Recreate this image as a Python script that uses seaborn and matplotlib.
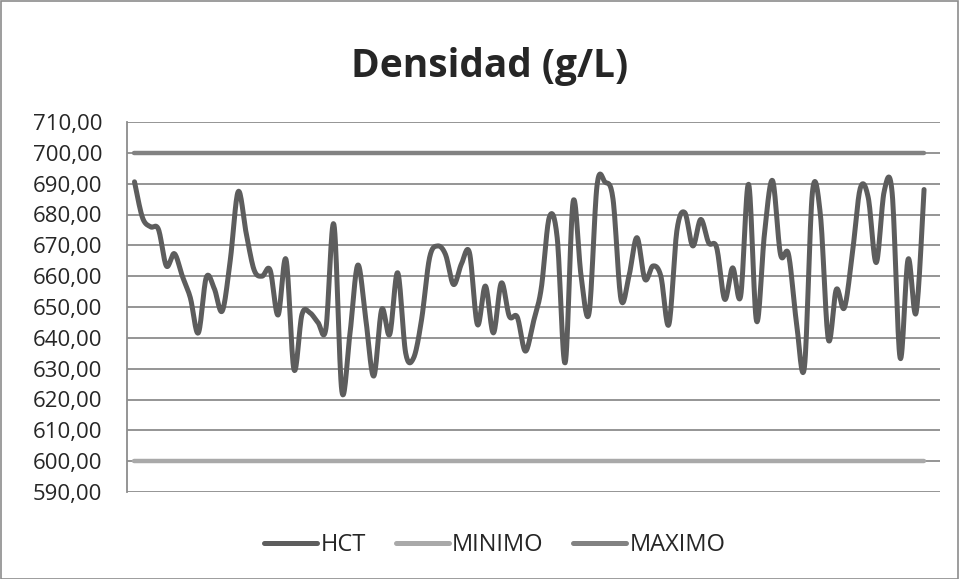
import numpy as np
import pandas as pd
import matplotlib
matplotlib.use("Agg")
import matplotlib.pyplot as plt
import seaborn as sns
from matplotlib.lines import Line2D
from matplotlib.patches import Rectangle

# ---- data ----
hct = [690.6, 679.0, 676.0, 675.2, 663.3, 667.3, 660.0, 653.0, 641.6, 659.6,
       656.0, 648.7, 665.0, 687.4, 674.0, 662.0, 660.0, 662.0, 647.4, 665.4,
       629.7, 647.6, 648.1, 645.0, 643.0, 676.8, 622.7, 641.0, 663.6, 646.0,
       627.6, 649.2, 641.1, 661.1, 635.1, 633.5, 646.0, 666.0, 669.8, 667.0,
       657.3, 664.0, 667.6, 644.3, 656.8, 641.6, 657.8, 647.0, 646.7, 635.7,
       645.0, 656.0, 679.0, 672.5, 631.9, 684.2, 660.0, 648.1, 689.5, 690.5,
       685.0, 652.5, 660.0, 672.5, 659.0, 663.3, 660.0, 644.3, 674.6, 680.6,
       669.8, 678.4, 670.8, 669.2, 652.5, 662.7, 653.5, 689.8, 645.4, 674.0,
       691.0, 667.1, 667.1, 645.0, 630.5, 687.1, 680.0, 639.5, 655.7, 649.7,
       667.1, 688.5, 685.5, 664.4, 687.5, 687.0, 633.5, 665.5, 648.1, 688.1]
minimo = 600.0
maximo = 700.0
y_ticks = [590, 600, 610, 620, 630, 640, 650, 660, 670, 680, 690, 700, 710]
title = "Densidad (g/L)"
series_names = ["HCT", "MINIMO", "MAXIMO"]

# ---- smoothing (Catmull-Rom, like Excel smoothed lines) ----
def catmull(xs, ys, n=16):
    xs = np.asarray(xs, float); ys = np.asarray(ys, float)
    px = np.concatenate([[xs[0]], xs, [xs[-1]]])
    py = np.concatenate([[ys[0]], ys, [ys[-1]]])
    ox, oy = [], []
    t = np.linspace(0, 1, n, endpoint=False)
    for i in range(1, len(px) - 2):
        for arr, out in ((px, ox), (py, oy)):
            p0, p1, p2, p3 = arr[i - 1], arr[i], arr[i + 1], arr[i + 2]
            out.extend(0.5 * ((2 * p1) + (-p0 + p2) * t +
                              (2 * p0 - 5 * p1 + 4 * p2 - p3) * t ** 2 +
                              (-p0 + 3 * p1 - 3 * p2 + p3) * t ** 3))
    ox.append(xs[-1]); oy.append(ys[-1])
    return np.array(ox), np.array(oy)

idx = np.arange(len(hct))
sx, sy = catmull(idx, hct)
df_h = pd.DataFrame({"x": sx, "y": sy})
df_lim = pd.DataFrame({"x": np.concatenate([idx, idx]),
                       "y": [minimo] * len(idx) + [maximo] * len(idx),
                       "s": ["MINIMO"] * len(idx) + ["MAXIMO"] * len(idx)})

sns.set_style("white")
plt.rcParams["font.family"] = ["Open Sans", "DejaVu Sans"]

c_hct, c_min, c_max = "#5d5d5d", "#a9a9a9", "#828282"

fig = plt.figure(figsize=(9.59, 5.79), dpi=100)
ax = fig.add_axes([127 / 959, 1 - 492 / 579, (940 - 127) / 959, (492 - 122) / 579])

ax.set_ylim(590, 710)
ax.set_xlim(-0.94, 101.0)
ax.set_yticks(y_ticks)
ax.set_yticklabels([f"{v:.2f}".replace(".", ",") for v in y_ticks], fontsize=16)
ax.set_xticks([])
ax.grid(axis="y", color="#8c8c8c", linewidth=1.3, zorder=0)
ax.tick_params(axis="y", length=6, width=1.3, color="#8c8c8c", direction="out", pad=12)
for s in ["top", "right", "bottom"]:
    ax.spines[s].set_visible(False)
ax.spines["left"].set_color("#8c8c8c")
ax.spines["left"].set_linewidth(1.3)

sns.lineplot(data=df_lim[df_lim.s == "MINIMO"], x="x", y="y", ax=ax, color=c_min,
             linewidth=3.2, solid_capstyle="round", zorder=3, estimator=None)
sns.lineplot(data=df_lim[df_lim.s == "MAXIMO"], x="x", y="y", ax=ax, color=c_max,
             linewidth=3.2, solid_capstyle="round", zorder=3, estimator=None)
sns.lineplot(data=df_h, x="x", y="y", ax=ax, color=c_hct, linewidth=3.6,
             solid_capstyle="round", zorder=4, estimator=None, sort=False)
ax.set_xlabel(""); ax.set_ylabel("")

fig.text(490 / 959, 1 - 66 / 579, title, ha="center", va="center",
         fontsize=28, fontweight="bold")

handles = [Line2D([], [], color=c, linewidth=3.6, solid_capstyle="round")
           for c in (c_hct, c_min, c_max)]
fig.legend(handles, series_names, loc="center", bbox_to_anchor=(495 / 959, 1 - 545 / 579),
           ncol=3, frameon=False, fontsize=17, handlelength=2.25, handletextpad=0.15,
           columnspacing=1.25)

fig.patches.append(Rectangle((0.5 / 959, 0.5 / 579), 1 - 1.5 / 959, 1 - 1.5 / 579,
                             transform=fig.transFigure, fill=False,
                             edgecolor="#8c8c8c", linewidth=1.2))

fig.savefig("out.png", dpi=100)
